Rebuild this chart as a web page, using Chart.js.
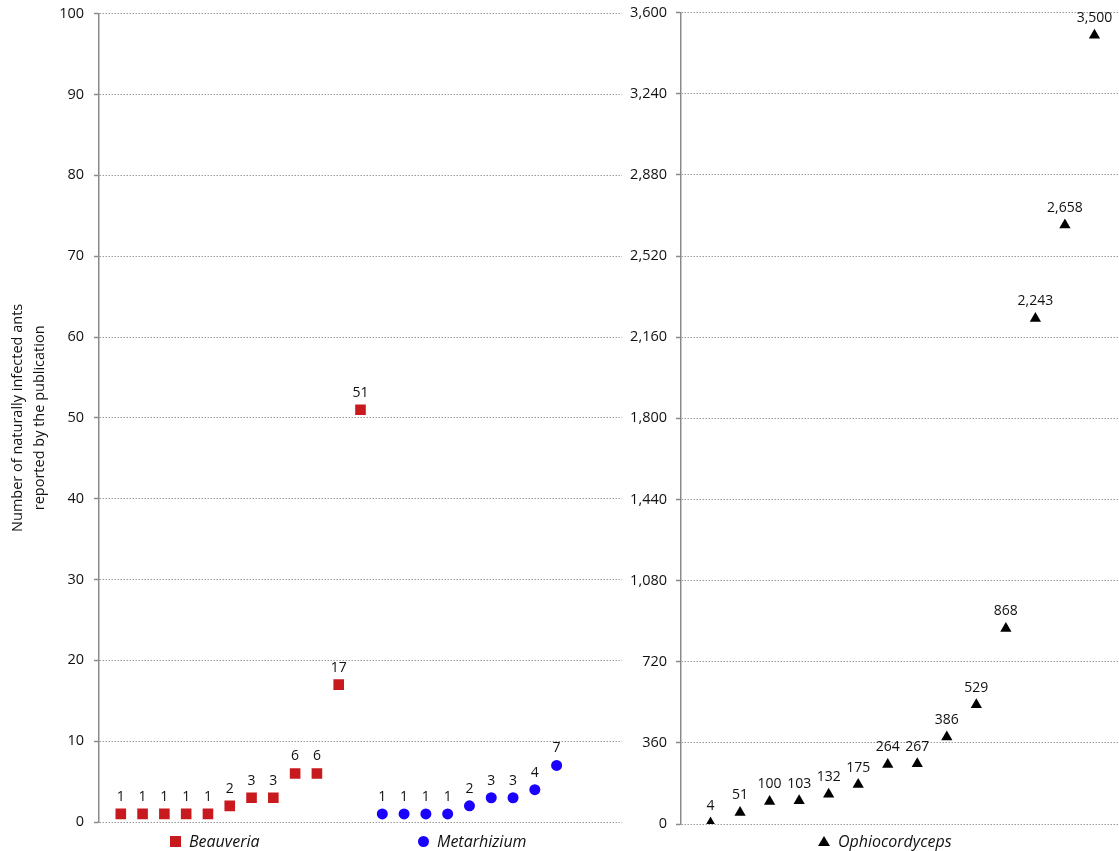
<!DOCTYPE html>
<html>
<head>
<meta charset="utf-8">
<title>Naturally infected ants per publication</title>
<script src="https://cdn.jsdelivr.net/npm/chart.js@4/dist/chart.umd.min.js"></script>
<style>
  html, body { margin: 0; padding: 0; background: #fff; overflow: hidden; }
  body { width: 1119px; height: 851px; position: relative; font-family: 'Open Sans', sans-serif; }
  /* panels start 5px above the page: the axis keeps label+padding room above its top tick */
  .panel { position: absolute; top: -5px; height: 856px; }
  #left-panel { left: 0; width: 622px; }
  #right-panel { left: 622px; width: 502px; }
  .legend-item { position: absolute; top: 830px; height: 22px; display: flex; align-items: center;
                 font-size: 16px; font-style: italic; color: #111; }
  .mk { display: inline-block; margin-right: 8px; }
  .mk-square { width: 11px; height: 11px; background: #c8191e; }
  .mk-circle { width: 11px; height: 11px; border-radius: 50%; background: #1a00ff; }
  .mk-triangle { width: 0; height: 0; border-left: 6px solid transparent; border-right: 6px solid transparent;
                 border-bottom: 10px solid #000; }
</style>
</head>
<body>
  <div class="panel" id="left-panel"><canvas id="leftChart"></canvas></div>
  <div class="panel" id="right-panel"><canvas id="rightChart"></canvas></div>

  <div class="legend-item" style="left:170px;"><span class="mk mk-square"></span>Beauveria</div>
  <div class="legend-item" style="left:418px;"><span class="mk mk-circle"></span>Metarhizium</div>
  <div class="legend-item" style="left:818px;"><span class="mk mk-triangle"></span>Ophiocordyceps</div>

<script>
// Counts per publication, sorted ascending within each genus
const beauveriaCounts = [1, 1, 1, 1, 1, 2, 3, 3, 6, 6, 17, 51];
const metarhiziumCounts = [1, 1, 1, 1, 2, 3, 3, 4, 7];
const ophiocordycepsCounts = [4, 51, 100, 103, 132, 175, 264, 267, 386, 529, 868, 2243, 2658, 3500];

const leftTicks = [0, 10, 20, 30, 40, 50, 60, 70, 80, 90, 100];
const rightTicks = [0, 360, 720, 1080, 1440, 1800, 2160, 2520, 2880, 3240, 3600];

const yTitle = ['Number of naturally infected ants', 'reported by the publication'];

const FONT = 'Open Sans';
const fmt = v => Number(v).toLocaleString('en-US');

// draws the count above each marker
const pointValueLabels = {
  id: 'pointValueLabels',
  afterDatasetsDraw(chart) {
    const ctx = chart.ctx;
    ctx.save();
    ctx.font = `14px "${FONT}"`;
    ctx.fillStyle = '#111';
    ctx.textAlign = 'center';
    ctx.textBaseline = 'middle';
    chart.data.datasets.forEach((ds, i) => {
      chart.getDatasetMeta(i).data.forEach((pt, j) => {
        ctx.fillText(fmt(ds.data[j].y), pt.x, pt.y - 17);
      });
    });
    ctx.restore();
  }
};

function yAxis(ticks, width, opts = {}) {
  return {
    min: ticks[0],
    max: ticks[ticks.length - 1],
    afterBuildTicks: s => { s.ticks = ticks.map(v => ({ value: v })); },
    afterFit: s => { s.width = width; },
    grid: { color: '#9a9a9a', lineWidth: 1, tickLength: 5, tickColor: '#8a8a8a', tickWidth: 1.5, tickBorderDash: [] },
    border: { display: true, color: '#8a8a8a', width: 1.5, dash: [1.5, 1.5] },
    ticks: { color: '#111', font: { family: FONT, size: 14.5 }, padding: opts.padding ?? 10, callback: fmt },
    title: opts.title || { display: false }
  };
}

const commonOptions = {
  responsive: true,
  maintainAspectRatio: false,
  animation: false,
  plugins: { legend: { display: false }, tooltip: { enabled: false } }
};

// left panel: Beauveria then Metarhizium along one index axis
new Chart(document.getElementById('leftChart'), {
  type: 'scatter',
  data: {
    datasets: [
      {
        label: 'Beauveria',
        data: beauveriaCounts.map((v, i) => ({ x: i + 1, y: v })),
        pointStyle: 'rect', pointRadius: 7.5, pointHoverRadius: 7.5,
        backgroundColor: '#c8191e', borderWidth: 0
      },
      {
        label: 'Metarhizium',
        data: metarhiziumCounts.map((v, i) => ({ x: beauveriaCounts.length + i + 1, y: v })),
        pointStyle: 'circle', pointRadius: 5.5, pointHoverRadius: 5.5,
        backgroundColor: '#1a00ff', borderWidth: 0
      }
    ]
  },
  options: {
    ...commonOptions,
    layout: { autoPadding: false, padding: { top: 13, bottom: 29, left: 0, right: 0 } },
    scales: {
      x: { type: 'linear', min: 0, max: 24, display: false },
      y: yAxis(leftTicks, 99, {
        title: { display: true, text: yTitle, color: '#111', font: { family: FONT, size: 14.5, lineHeight: 1.5 }, padding: { top: 7, bottom: 0 } }
      })
    }
  },
  plugins: [pointValueLabels]
});

// right panel: Ophiocordyceps on its own scale
new Chart(document.getElementById('rightChart'), {
  type: 'scatter',
  data: {
    datasets: [{
      label: 'Ophiocordyceps',
      data: ophiocordycepsCounts.map((v, i) => ({ x: i + 1, y: v })),
      pointStyle: 'triangle', pointRadius: 6.5, pointHoverRadius: 6.5,
      backgroundColor: '#000', borderWidth: 0
    }]
  },
  options: {
    ...commonOptions,
    layout: { autoPadding: false, padding: { top: 12, bottom: 27, left: 0, right: 0 } },
    scales: {
      x: { type: 'linear', min: 0, max: 15, display: false },
      y: yAxis(rightTicks, 59, { padding: 9 })
    }
  },
  plugins: [pointValueLabels]
});
</script>
</body>
</html>
